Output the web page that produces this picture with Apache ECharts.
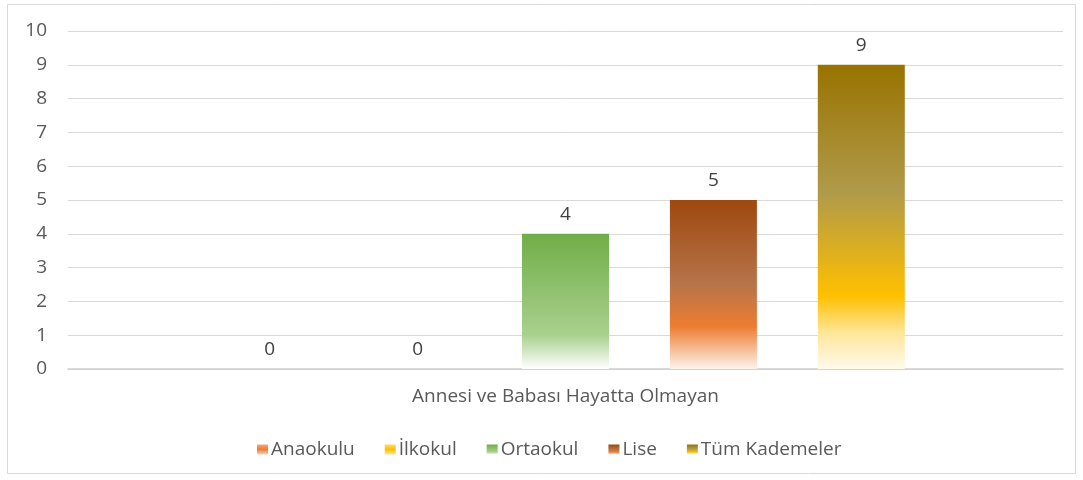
<!DOCTYPE html>
<html>
<head>
<meta charset="utf-8">
<script src="https://cdn.jsdelivr.net/npm/echarts@6/dist/echarts.min.js"></script>
<style>
  html, body { margin: 0; padding: 0; background: #fff; }
  #chart { width: 1083px; height: 480px; }
</style>
</head>
<body>
<div id="chart"></div>
<script>
// veriler
const categories = ['Annesi ve Babası Hayatta Olmayan'];
const seriesNames = ['Anaokulu', 'İlkokul', 'Ortaokul', 'Lise', 'Tüm Kademeler'];
const anaokulu = [0];
const ilkokul = [0];
const ortaokul = [4];
const lise = [5];
const tumKademeler = [9];
const yTicks = [0, 1, 2, 3, 4, 5, 6, 7, 8, 9, 10];

const font = 'Open Sans';
const fs = 19;

function grad(stops) {
  return new echarts.graphic.LinearGradient(0, 0, 0, 1,
    stops.map(s => ({ offset: s[0], color: s[1] })));
}

// renk geçişleri
const fills = [
  grad([[0, '#f2a87a'], [0.5, '#ED7D31'], [1, '#f8d3bb']]),
  grad([[0, '#ffd966'], [0.5, '#FFC000'], [1, '#ffe699']]),
  grad([[0, '#70AD47'], [0.75, '#a9d18e'], [1, '#ffffff']]),
  grad([[0, '#9E480E'], [0.5, '#b7744a'], [0.75, '#ED7D31'], [1, '#fdf3ec']]),
  grad([[0, '#997300'], [0.42, '#b09a4a'], [0.76, '#FFC000'], [0.88, '#ffe699'], [1, '#fffaeb']])
];
const dataSets = [anaokulu, ilkokul, ortaokul, lise, tumKademeler];

const chart = echarts.init(document.getElementById('chart'));
chart.setOption({
  animation: false,
  textStyle: { fontFamily: font },
  graphic: [{
    type: 'rect',
    shape: { x: 7.5, y: 4.5, width: 1068, height: 469 },
    style: { fill: 'none', stroke: '#d9d9d9', lineWidth: 1 },
    silent: true
  }],
  grid: { left: 68, right: 20, top: 31, bottom: 111 },
  legend: {
    data: seriesNames,
    bottom: 16,
    left: 252,
    itemWidth: 11,
    itemHeight: 10,
    itemGap: 30,
    icon: 'rect',
    textStyle: { color: '#595959', fontSize: fs, fontFamily: font, padding: [0, 0, 0, -2] }
  },
  xAxis: {
    type: 'category',
    data: categories,
    axisTick: { show: false },
    axisLine: { lineStyle: { color: '#d0d0d0', width: 1.5 } },
    axisLabel: { color: '#595959', fontSize: fs, margin: 18, fontFamily: font }
  },
  yAxis: {
    type: 'value',
    min: yTicks[0],
    max: yTicks[yTicks.length - 1],
    interval: 1,
    axisLine: { show: false },
    axisTick: { show: false },
    axisLabel: { color: '#595959', fontSize: fs, margin: 21, fontFamily: font },
    splitLine: { lineStyle: { color: '#d9d9d9', width: 1 } }
  },
  series: seriesNames.map((name, i) => ({
    name: name,
    type: 'bar',
    data: dataSets[i],
    barWidth: 87,
    barGap: '70%',
    itemStyle: { color: fills[i] },
    label: {
      show: true,
      position: 'top',
      distance: 10,
      color: '#404040',
      fontSize: fs,
      fontFamily: font
    }
  }))
});
</script>
</body>
</html>
